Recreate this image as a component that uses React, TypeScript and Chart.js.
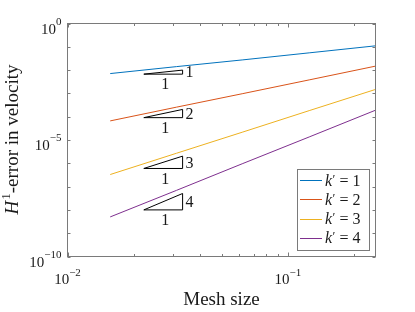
import React, { useEffect, useRef } from "react";
import { Chart, registerables } from "chart.js";

Chart.register(...registerables);

// ---- data ----
const meshSizes = [1 / 64, 1 / 32, 1 / 16, 1 / 8, 1 / 4];
const errorK1 = [7.1e-3, 1.41e-2, 2.75e-2, 5.5e-2, 1.1e-1];
const errorK2 = [6.6e-5, 2.57e-4, 9.8e-4, 3.8e-3, 1.48e-2];
const errorK3 = [3.3e-7, 2.7e-6, 2.2e-5, 1.82e-4, 1.48e-3];
const errorK4 = [5.0e-9, 6.9e-8, 9.8e-7, 1.35e-5, 1.9e-4];
const seriesValues = [errorK1, errorK2, errorK3, errorK4];
const seriesOrders = ["1", "2", "3", "4"];
const seriesColors = ["#0072BD", "#D95319", "#EDB120", "#7E2F8E"];

const triangleX = [0.0222, 0.0333];
const triangleBottom = [6.7e-3, 9.1e-5, 6.0e-7, 1.0e-8];
const triangleTop = [1.0e-2, 2.05e-4, 2.03e-6, 5.06e-8];
const triangleRise = ["1", "2", "3", "4"];
const triangleRun = "1";

const xMin = 0.01;
const xMax = 0.25;
const yMin = 1e-10;
const yMax = 1;
const xMajorTicks = [0.01, 0.1];
const xMinorTicks = [0.02, 0.03, 0.04, 0.05, 0.06, 0.07, 0.08, 0.09, 0.2];
const yTicks = [1, 1e-1, 1e-2, 1e-3, 1e-4, 1e-5, 1e-6, 1e-7, 1e-8, 1e-9, 1e-10];
const xLabelValues = [0.01, 0.1];
const xLabelExps = ["\u22122", "\u22121"];
const yLabelValues = [1, 1e-5, 1e-10];
const yLabelExps = ["0", "\u22125", "\u221210"];
const xTitle = "Mesh size";
const yTitleMain = "H";
const yTitleSup = "1";
const yTitleRest = "-error in velocity";

const SERIF = '"Liberation Serif", "Times New Roman", "DejaVu Serif", serif';
const TEXT = "#1a1a1a";
const AXIS = "#7a7a7a";

function drawPower(ctx: CanvasRenderingContext2D, exp: string, x: number, baseY: number, expY: number, align: string) {
  ctx.font = `15px ${SERIF}`;
  const wb = ctx.measureText("10").width;
  ctx.font = `11px ${SERIF}`;
  const we = ctx.measureText(exp).width;
  const total = wb + we;
  const x0 = align === "right" ? x - total : x - total / 2;
  ctx.textAlign = "left";
  ctx.textBaseline = "alphabetic";
  ctx.font = `15px ${SERIF}`;
  ctx.fillText("10", x0, baseY);
  ctx.font = `11px ${SERIF}`;
  ctx.fillText(exp, x0 + wb, expY);
}

const decorPlugin = {
  id: "decor",
  afterDraw(chart: any) {
    const ctx: CanvasRenderingContext2D = chart.ctx;
    const area = chart.chartArea;
    const xs = chart.scales.x;
    const ys = chart.scales.y;
    ctx.save();

    // box
    ctx.strokeStyle = AXIS;
    ctx.lineWidth = 1;
    ctx.strokeRect(area.left, area.top, area.right - area.left, area.bottom - area.top);

    // ticks
    ctx.beginPath();
    const xt = (v: number, len: number) => {
      const px = Math.round(xs.getPixelForValue(v)) + 0.5;
      ctx.moveTo(px, area.bottom);
      ctx.lineTo(px, area.bottom - len);
      ctx.moveTo(px, area.top);
      ctx.lineTo(px, area.top + len);
    };
    xMajorTicks.forEach((v) => xt(v, 4));
    xMinorTicks.forEach((v) => xt(v, 2.5));
    yTicks.forEach((v) => {
      const py = Math.round(ys.getPixelForValue(v)) + 0.5;
      ctx.moveTo(area.left, py);
      ctx.lineTo(area.left + 3, py);
      ctx.moveTo(area.right, py);
      ctx.lineTo(area.right - 3, py);
    });
    ctx.stroke();

    // tick labels
    ctx.fillStyle = TEXT;
    yLabelValues.forEach((v, i) => {
      const py = ys.getPixelForValue(v);
      drawPower(ctx, yLabelExps[i], area.left - 6, py + 10, py + 1, "right");
    });
    xLabelValues.forEach((v, i) => {
      const px = xs.getPixelForValue(v);
      drawPower(ctx, xLabelExps[i], px, area.bottom + 27, area.bottom + 19, "center");
    });

    // x title
    ctx.font = `19px ${SERIF}`;
    ctx.textAlign = "center";
    ctx.textBaseline = "alphabetic";
    ctx.fillText(xTitle, (area.left + area.right) / 2, 305);

    // y title
    ctx.save();
    ctx.translate(17.5, (area.top + area.bottom) / 2);
    ctx.rotate(-Math.PI / 2);
    ctx.textAlign = "left";
    ctx.font = `italic 19px ${SERIF}`;
    const wH = ctx.measureText(yTitleMain).width;
    ctx.font = `13px ${SERIF}`;
    const wS = ctx.measureText(yTitleSup).width;
    ctx.font = `19px ${SERIF}`;
    const wR = ctx.measureText(yTitleRest).width;
    let x0 = -(wH + wS + wR) / 2;
    ctx.font = `italic 19px ${SERIF}`;
    ctx.fillText(yTitleMain, x0, 0);
    x0 += wH + 1;
    ctx.font = `13px ${SERIF}`;
    ctx.fillText(yTitleSup, x0, -8);
    x0 += wS;
    ctx.font = `19px ${SERIF}`;
    ctx.fillText(yTitleRest, x0, 0);
    ctx.restore();

    // slope triangle labels
    ctx.font = `16px ${SERIF}`;
    ctx.textBaseline = "middle";
    triangleRise.forEach((r, i) => {
      const px2 = xs.getPixelForValue(triangleX[1]);
      const pyb = ys.getPixelForValue(triangleBottom[i]);
      const pyt = ys.getPixelForValue(triangleTop[i]);
      ctx.textAlign = "left";
      ctx.fillText(r, px2 + 3, (pyb + pyt) / 2 + 1);
      const pxm = xs.getPixelForValue((triangleX[0] + triangleX[1]) / 2);
      ctx.textAlign = "center";
      ctx.fillText(triangleRun, pxm, pyb + 11);
    });

    // legend
    const lx = 297.5, ly = 169.5, lw = 72, lh = 81;
    ctx.fillStyle = "#ffffff";
    ctx.fillRect(lx, ly, lw, lh);
    ctx.strokeStyle = AXIS;
    ctx.strokeRect(lx, ly, lw, lh);
    seriesOrders.forEach((o, i) => {
      const ry = 180 + i * 19.3;
      ctx.strokeStyle = seriesColors[i];
      ctx.lineWidth = 1;
      ctx.beginPath();
      ctx.moveTo(300, Math.round(ry) + 0.5);
      ctx.lineTo(322, Math.round(ry) + 0.5);
      ctx.stroke();
      ctx.fillStyle = TEXT;
      ctx.textAlign = "left";
      ctx.textBaseline = "alphabetic";
      let tx = 325;
      const by = ry + 5.5;
      ctx.font = `italic 16px ${SERIF}`;
      ctx.fillText("k", tx, by);
      tx += ctx.measureText("k").width + 0.5;
      ctx.font = `13px ${SERIF}`;
      ctx.fillText("\u2032", tx, by - 3);
      tx += ctx.measureText("\u2032").width + 4;
      ctx.font = `16px ${SERIF}`;
      ctx.fillText("=", tx, by);
      tx += ctx.measureText("=").width + 4;
      ctx.fillText(o, tx, by);
    });

    ctx.restore();
  },
};

export default function App() {
  const ref = useRef<HTMLCanvasElement>(null);
  useEffect(() => {
    document.body.style.margin = "0";
    const datasets: any[] = seriesValues.map((vals, i) => ({
      label: "k' = " + seriesOrders[i],
      data: meshSizes.map((h, j) => ({ x: h, y: vals[j] })),
      borderColor: seriesColors[i],
      backgroundColor: seriesColors[i],
      borderWidth: 1,
      pointRadius: 0,
      fill: false,
      tension: 0,
    }));
    triangleRise.forEach((r, i) => {
      datasets.push({
        label: "slope " + r,
        data: [
          { x: triangleX[0], y: triangleBottom[i] },
          { x: triangleX[1], y: triangleBottom[i] },
          { x: triangleX[1], y: triangleTop[i] },
          { x: triangleX[0], y: triangleBottom[i] },
        ],
        borderColor: "#000000",
        borderWidth: 1,
        pointRadius: 0,
        fill: false,
        tension: 0,
      });
    });
    const chart = new Chart(ref.current as HTMLCanvasElement, {
      type: "line",
      data: { datasets },
      options: {
        responsive: false,
        animation: false,
        devicePixelRatio: 1,
        layout: { padding: { left: 67.5, top: 23.5, right: 39.5, bottom: 55.5 } },
        plugins: { legend: { display: false }, tooltip: { enabled: false } },
        scales: {
          x: { type: "logarithmic", min: xMin, max: xMax, display: false },
          y: { type: "logarithmic", min: yMin, max: yMax, display: false },
        },
      },
      plugins: [decorPlugin],
    } as any);
    return () => chart.destroy();
  }, []);
  return (
    <div style={{ width: 415, height: 312 }}>
      <canvas ref={ref} width={415} height={312} style={{ display: "block" }} />
    </div>
  );
}
